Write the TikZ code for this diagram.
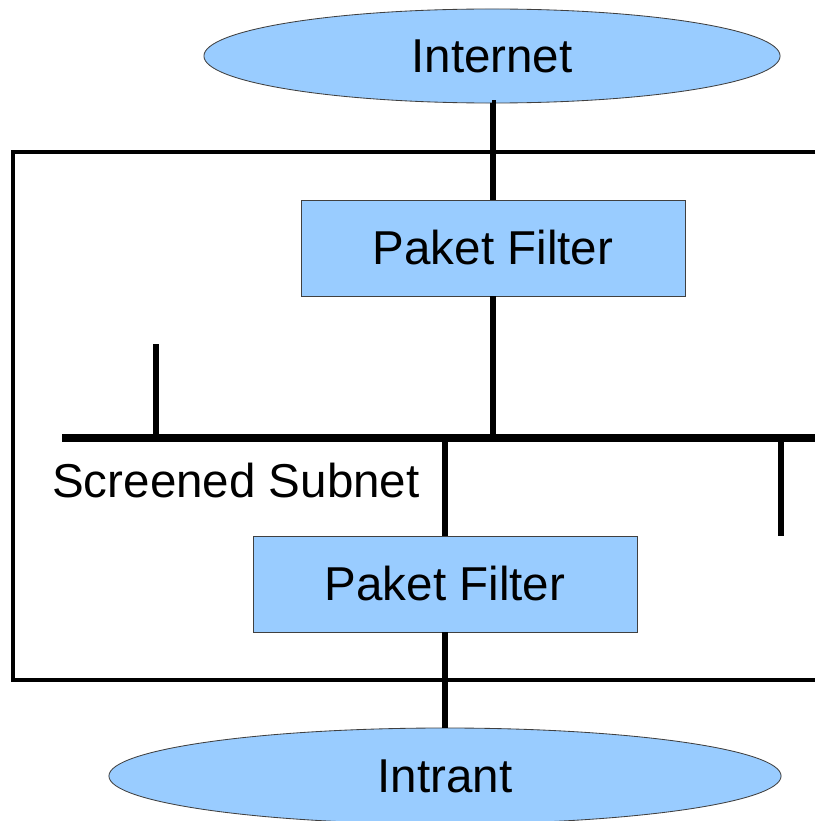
\documentclass[tikz,border=0pt]{standalone}
\usepackage{fontspec}
\setmainfont{Liberation Sans}
\usetikzlibrary{shapes.geometric}
\definecolor{netblue}{HTML}{99CCFF}
\tikzset{
  net/.style={ellipse, draw=black!75, fill=netblue, line width=0.6pt, inner sep=0pt,
    font=\fontsize{33.8}{40}\selectfont},
  filterbox/.style={rectangle, draw=black!75, fill=netblue, line width=0.6pt,
    minimum width=9.6cm, minimum height=2.4cm, font=\fontsize{33.8}{40}\selectfont},
  cable/.style={line width=4.3pt},
  bus/.style={line width=5pt},
  frame/.style={line width=2.3pt}
}
\begin{document}
\begin{tikzpicture}[x=0.025cm, y=-0.025cm]
    \useasboundingbox (0,0) rectangle (815,821);

    % Draw the outer frame (open to the right)
    \draw[frame] (815,152) -| (13,680) -- (815,680);

    % Draw the nodes
    \node[net, minimum width=14.4cm, minimum height=2.35cm] (internet) at (492,56) {Internet};
    \node[filterbox] (filterA) at (493,248) {Paket Filter};
    \node[filterbox] (filterB) at (445,584) {Paket Filter};
    \node[net, minimum width=16.8cm, minimum height=2.4cm] (intranet) at (445,776) {Intrant};

    % Draw the screened subnet bus
    \coordinate (busL) at (62,438);
    \coordinate (busR) at (815,438);
    \draw[bus] (busL) -- (busR);
    \node[anchor=west, font=\fontsize{33.8}{40}\selectfont, inner sep=0pt] (subnet) at (52,481) {Screened Subnet};

    % Draw the stubs on the bus
    \coordinate (stubA) at (156,344);
    \coordinate (stubB) at (781,536);
    \draw[cable] (stubA) -- (stubA |- busL);
    \draw[cable] (stubB |- busL) -- (stubB);

    % Draw the cables between the nodes
    \draw[cable] (internet.south) -- (internet.south -| filterA.north) -- (filterA.north);
    \draw[cable] (filterA.south) -- (filterA.south |- busL);
    \draw[cable] (filterB.north |- busL) -- (filterB.north);
    \draw[cable] (filterB.south) -- (filterB.south |- intranet.north);
\end{tikzpicture}
\end{document}
